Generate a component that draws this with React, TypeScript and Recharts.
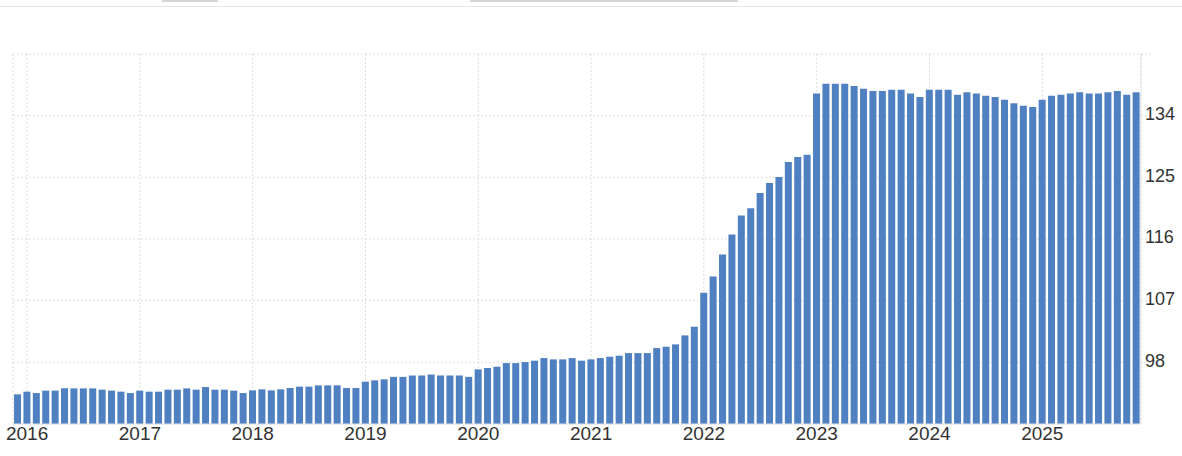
import { Bar, BarChart, CartesianGrid, XAxis, YAxis } from "recharts";

// monthly index, Dec 2015 .. Nov 2025
const startYear = 2015;
const startMonth = 12;

const values2015: number[] = [93.33];
const values2016: number[] = [93.72, 93.52, 93.87, 93.87, 94.2, 94.2, 94.2, 94.2, 94.01, 93.87, 93.72, 93.52];
const values2017: number[] = [93.87, 93.72, 93.72, 94.01, 94.01, 94.2, 94.01, 94.4, 94.01, 94.01, 93.87, 93.52];
const values2018: number[] = [93.91, 94.06, 93.91, 94.06, 94.25, 94.45, 94.45, 94.64, 94.64, 94.64, 94.25, 94.25];
const values2019: number[] = [95.18, 95.37, 95.52, 95.88, 95.88, 96.08, 96.08, 96.22, 96.08, 96.08, 96.08, 95.88];
const values2020: number[] = [96.97, 97.17, 97.36, 97.89, 97.89, 98.04, 98.24, 98.62, 98.43, 98.43, 98.62, 98.24];
const values2021: number[] = [98.43, 98.62, 98.82, 98.97, 99.35, 99.35, 99.35, 100.08, 100.28, 100.62, 101.93, 103.2];
const values2022: number[] = [108.15, 110.53, 113.74, 116.65, 119.42, 120.49, 122.73, 124.19, 125.06, 127.25, 127.98, 128.31];
const values2023: number[] = [137.25, 138.66, 138.66, 138.66, 138.32, 137.94, 137.6, 137.6, 137.79, 137.79, 137.25, 136.72];
const values2024: number[] = [137.79, 137.79, 137.79, 137.06, 137.4, 137.25, 136.92, 136.72, 136.33, 135.8, 135.46, 135.26];
const values2025: number[] = [136.33, 136.92, 137.06, 137.25, 137.4, 137.25, 137.25, 137.4, 137.6, 137.06, 137.4];

const yTicks: number[] = [98, 107, 116, 125, 134, 143];
const yearTicks: string[] = ["2016", "2017", "2018", "2019", "2020", "2021", "2022", "2023", "2024", "2025"];

const allValues = [
  ...values2015,
  ...values2016,
  ...values2017,
  ...values2018,
  ...values2019,
  ...values2020,
  ...values2021,
  ...values2022,
  ...values2023,
  ...values2024,
  ...values2025,
];

function monthKey(i: number): string {
  const m0 = startMonth - 1 + i;
  const y = startYear + Math.floor(m0 / 12);
  const m = (m0 % 12) + 1;
  return `${y}-${String(m).padStart(2, "0")}`;
}

const data = allValues.map((v, i) => ({ month: monthKey(i), value: v }));
const xTicks = yearTicks.map((y) => `${y}-01`);

const GRID = "#dedede";
const AXIS = "#e3e3e3";
const BLUE = "#4f80c1";

export default function App() {
  return (
    <div
      style={{
        position: "fixed",
        left: 0,
        top: 0,
        width: 1182,
        height: 456,
        background: "#fff",
        fontFamily: "'Liberation Sans', Arial, sans-serif",
        overflow: "hidden",
      }}
    >
      {/* cut-off page chrome above the chart */}
      <div style={{ position: "absolute", left: 162, top: 0, width: 56, height: 2, background: "#d6d6d6" }} />
      <div style={{ position: "absolute", left: 470, top: 0, width: 268, height: 2, background: "#d6d6d6" }} />
      <div style={{ position: "absolute", left: 0, top: 6, width: 1182, height: 1, background: "#e6e6e6" }} />

      <div style={{ position: "absolute", left: 0, top: 0 }}>
        <BarChart
          width={1182}
          height={456}
          data={data}
          margin={{ top: 54, right: 0, left: 13, bottom: 0 }}
          barCategoryGap="11%"
        >
          <CartesianGrid stroke={GRID} strokeDasharray="2 2" />
          <XAxis
            dataKey="month"
            ticks={xTicks}
            tickFormatter={(v: string) => v.slice(0, 4)}
            height={32}
            tickSize={0}
            tickMargin={3}
            tickLine={false}
            axisLine={{ stroke: AXIS }}
            tick={{ fontSize: 19, fill: "#333" }}
            interval={0}
          />
          <YAxis
            yAxisId="left"
            orientation="left"
            width={0}
            tick={false}
            tickLine={false}
            axisLine={{ stroke: GRID, strokeDasharray: "2 2" }}
          />
          <YAxis
            orientation="right"
            domain={[89, 143]}
            ticks={yTicks}
            width={41}
            tickSize={10}
            tickMargin={0}
            tickLine={{ stroke: GRID, strokeDasharray: "2 2" }}
            axisLine={{ stroke: AXIS }}
            tickFormatter={(v: number) => (v === 143 ? "" : String(v))}
            tick={{ fontSize: 18, fill: "#333", dx: -6, dy: -2 }}
            allowDataOverflow
          />
          <Bar dataKey="value" fill={BLUE} isAnimationActive={false} />
        </BarChart>
      </div>
    </div>
  );
}
